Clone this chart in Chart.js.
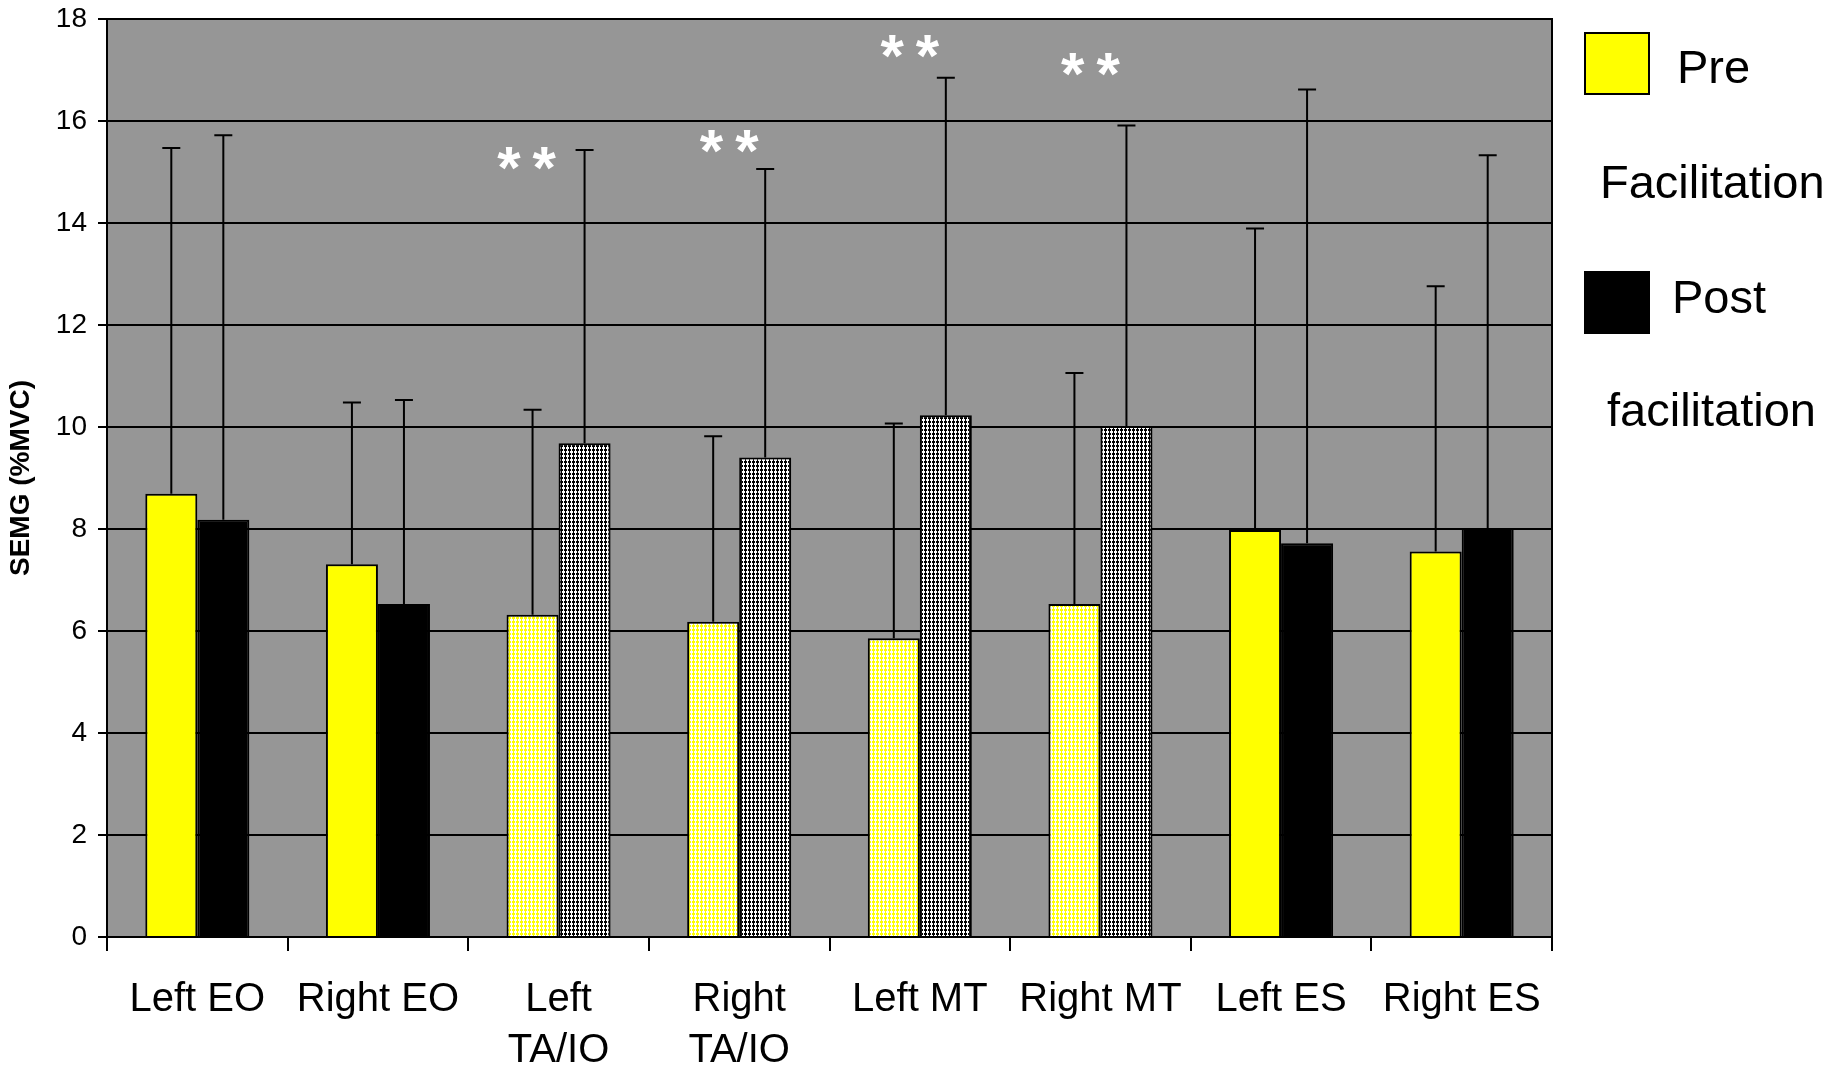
<!DOCTYPE html>
<html>
<head>
<meta charset="utf-8">
<script src="https://cdn.jsdelivr.net/npm/chart.js@4.4.1/dist/chart.umd.min.js"></script>
<style>
  body { margin: 0; background: #fff; }
  #wrap { position: relative; width: 1839px; height: 1067px; font-family: "Liberation Sans", Arial, sans-serif; }
  .sw { position: absolute; left: 1584px; width: 62px; height: 59px; border: 2px solid #000; }
  .lt { position: absolute; font-size: 47px; color: #000; line-height: 1; white-space: nowrap; }
</style>
</head>
<body>
<div id="wrap">
  <canvas id="semgChart" width="1839" height="1067"></canvas>
  <div class="sw" style="top:32px;background:#ffff00"></div>
  <div class="lt" style="left:1677px;top:43px">Pre</div>
  <div class="lt" style="left:1600px;top:158px">Facilitation</div>
  <div class="sw" style="top:271px;background:#000"></div>
  <div class="lt" style="left:1672px;top:273px">Post</div>
  <div class="lt" style="left:1607px;top:386px">facilitation</div>
</div>
<script>
// muscle groups
const labels = ["Left EO", "Right EO", ["Left", "TA/IO"], ["Right", "TA/IO"], "Left MT", "Right MT", "Left ES", "Right ES"];
// mean SEMG values
const preValues = [8.69, 7.31, 6.32, 6.18, 5.86, 6.53, 7.98, 7.56];
const postValues = [8.18, 6.53, 9.68, 9.40, 10.23, 10.02, 7.72, 8.02];
// top of the error bars
const preErrTop = [15.47, 10.48, 10.34, 9.82, 10.07, 11.06, 13.89, 12.76];
const postErrTop = [15.72, 10.53, 15.43, 15.06, 16.85, 15.91, 16.62, 15.33];
// which groups are drawn hatched (significant change)
const hatched = [false, false, true, true, true, true, false, false];
// "**" marks: category index and value height
const sigIndex = [2, 3, 4, 5];
const sigValue = [15.35, 15.7, 17.55, 17.2];
const yTicks = [0, 2, 4, 6, 8, 10, 12, 14, 16, 18];

const canvas = document.getElementById("semgChart");
const ctx = canvas.getContext("2d");

function makePattern(fg) {
  const c = document.createElement("canvas");
  c.width = 4;
  c.height = 4;
  const g = c.getContext("2d");
  g.fillStyle = "#fff";
  g.fillRect(0, 0, 4, 4);
  g.fillStyle = fg;
  g.fillRect(1, 0, 1, 4);
  g.fillRect(0, 1, 3, 2);
  return ctx.createPattern(c, "repeat");
}
const patYellow = makePattern("#ffff00");
const patBlack = makePattern("#000");

const preColors = hatched.map((h) => (h ? patYellow : "#ffff00"));
const postColors = hatched.map((h) => (h ? patBlack : "#000"));

const plotExtras = {
  id: "plotExtras",
  beforeDraw(chart) {
    const a = chart.chartArea;
    const c = chart.ctx;
    c.save();
    c.fillStyle = "#969696";
    c.fillRect(a.left, a.top, a.right - a.left, a.bottom - a.top);
    c.restore();
  },
  afterDatasetsDraw(chart) {
    const c = chart.ctx;
    const y = chart.scales.y;
    const x = chart.scales.x;
    const tops = [preErrTop, postErrTop];
    c.save();
    c.strokeStyle = "#000";
    c.lineWidth = 2;
    tops.forEach((errTop, i) => {
      const meta = chart.getDatasetMeta(i);
      meta.data.forEach((bar, j) => {
        const yt = y.getPixelForValue(errTop[j]);
        c.beginPath();
        c.moveTo(bar.x, bar.y);
        c.lineTo(bar.x, yt);
        c.moveTo(bar.x - 9, yt);
        c.lineTo(bar.x + 9, yt);
        c.stroke();
      });
    });
    // significance marks (first one sits a little further left)
    const size = 60;
    c.fillStyle = "#fff";
    c.font = "bold " + size + "px 'Liberation Sans', Arial, sans-serif";
    c.letterSpacing = "12px";
    c.textAlign = "center";
    c.textBaseline = "alphabetic";
    sigIndex.forEach((idx, k) => {
      const nudge = k === 0 ? -26 : -4;
      const px = x.getPixelForValue(idx) + nudge;
      const py = y.getPixelForValue(sigValue[k]) + 0.57 * size;
      c.fillText("**", px, py);
    });
    c.letterSpacing = "0px";
    // frame
    const a = chart.chartArea;
    c.strokeRect(a.left, a.top, a.right - a.left, a.bottom - a.top);
    c.restore();
  },
};

new Chart(ctx, {
  type: "bar",
  data: {
    labels: labels,
    datasets: [
      {
        label: "Pre Facilitation",
        data: preValues,
        backgroundColor: preColors,
        borderColor: "#000",
        borderWidth: 2,
        borderSkipped: "bottom",
      },
      {
        label: "Post facilitation",
        data: postValues,
        backgroundColor: postColors,
        borderColor: "#000",
        borderWidth: 2,
        borderSkipped: "bottom",
      },
    ],
  },
  options: {
    responsive: false,
    animation: false,
    layout: { padding: { top: 19, right: 287, left: 0, bottom: 0 } },
    datasets: { bar: { categoryPercentage: 0.576, barPercentage: 1 } },
    plugins: { legend: { display: false }, tooltip: { enabled: false } },
    scales: {
      x: {
        afterFit: (s) => { s.height = 130; },
        grid: { offset: true, drawOnChartArea: false, drawTicks: true, tickLength: 14, color: "#000", lineWidth: 2 },
        border: { color: "#000", width: 2 },
        ticks: {
          color: "#000",
          padding: 24,
          maxRotation: 0,
          autoSkip: false,
          font: { family: "'Liberation Sans', Arial, sans-serif", size: 40, lineHeight: 1.27 },
        },
      },
      y: {
        min: 0,
        max: 18,
        afterFit: (s) => {
          s.width = 107;
          s.paddingTop = 0;
          s.paddingBottom = 0;
        },
        afterBuildTicks: (s) => { s.ticks = yTicks.map((v) => ({ value: v })); },
        grid: { color: "#000", lineWidth: 2, tickLength: 9 },
        border: { color: "#000", width: 2 },
        ticks: {
          color: "#000",
          padding: 11,
          font: { family: "'Liberation Sans', Arial, sans-serif", size: 28 },
        },
        title: {
          display: true,
          text: "SEMG (%MVC)",
          color: "#000",
          padding: { top: 4, bottom: 0 },
          font: { family: "'Liberation Sans', Arial, sans-serif", size: 28, weight: "bold" },
        },
      },
    },
  },
  plugins: [plotExtras],
});
</script>
</body>
</html>
